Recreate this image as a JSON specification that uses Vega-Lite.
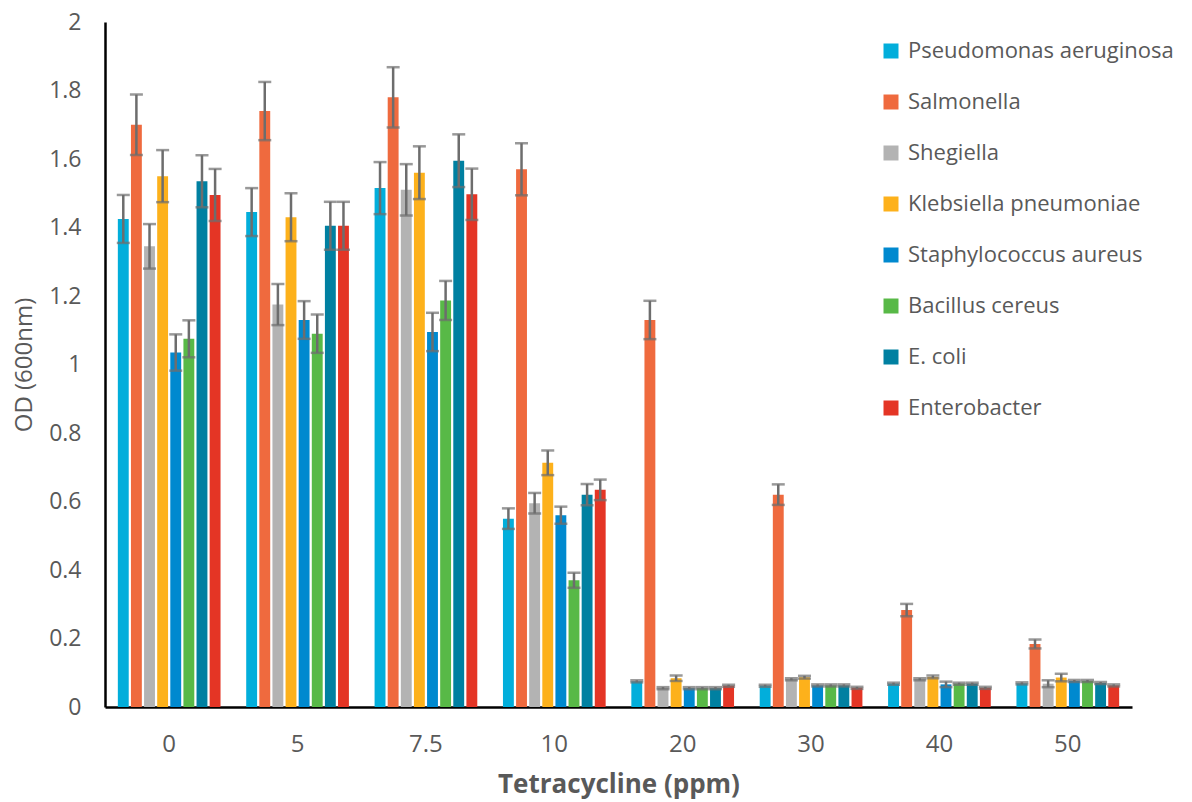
{
  "$schema": "https://vega.github.io/schema/vega-lite/v6.json",
  "width": 1027,
  "height": 685,
  "autosize": "none",
  "padding": {"left": 105, "top": 22, "right": 60, "bottom": 95},
  "background": "white",
  "config": {
    "view": {"stroke": null},
    "font": "Open Sans",
    "axis": {"grid": false, "labelColor": "#595959", "titleColor": "#595959", "labelFont": "Open Sans", "titleFont": "Open Sans"}
  },
  "data": {
    "values": [
      {"c": "0", "s": "Pseudomonas aeruginosa", "v": 1.425, "lo": 1.355, "hi": 1.495},
      {"c": "0", "s": "Salmonella", "v": 1.70, "lo": 1.612, "hi": 1.788},
      {"c": "0", "s": "Shegiella", "v": 1.345, "lo": 1.28, "hi": 1.41},
      {"c": "0", "s": "Klebsiella pneumoniae", "v": 1.55, "lo": 1.474, "hi": 1.626},
      {"c": "0", "s": "Staphylococcus aureus", "v": 1.035, "lo": 0.982, "hi": 1.088},
      {"c": "0", "s": "Bacillus cereus", "v": 1.075, "lo": 1.021, "hi": 1.129},
      {"c": "0", "s": "E. coli", "v": 1.535, "lo": 1.459, "hi": 1.611},
      {"c": "0", "s": "Enterobacter", "v": 1.495, "lo": 1.419, "hi": 1.571},

      {"c": "5", "s": "Pseudomonas aeruginosa", "v": 1.445, "lo": 1.375, "hi": 1.515},
      {"c": "5", "s": "Salmonella", "v": 1.74, "lo": 1.655, "hi": 1.825},
      {"c": "5", "s": "Shegiella", "v": 1.175, "lo": 1.115, "hi": 1.235},
      {"c": "5", "s": "Klebsiella pneumoniae", "v": 1.43, "lo": 1.36, "hi": 1.50},
      {"c": "5", "s": "Staphylococcus aureus", "v": 1.13, "lo": 1.075, "hi": 1.185},
      {"c": "5", "s": "Bacillus cereus", "v": 1.09, "lo": 1.034, "hi": 1.146},
      {"c": "5", "s": "E. coli", "v": 1.405, "lo": 1.335, "hi": 1.475},
      {"c": "5", "s": "Enterobacter", "v": 1.405, "lo": 1.335, "hi": 1.475},

      {"c": "7.5", "s": "Pseudomonas aeruginosa", "v": 1.515, "lo": 1.439, "hi": 1.591},
      {"c": "7.5", "s": "Salmonella", "v": 1.78, "lo": 1.692, "hi": 1.868},
      {"c": "7.5", "s": "Shegiella", "v": 1.51, "lo": 1.435, "hi": 1.585},
      {"c": "7.5", "s": "Klebsiella pneumoniae", "v": 1.56, "lo": 1.483, "hi": 1.637},
      {"c": "7.5", "s": "Staphylococcus aureus", "v": 1.095, "lo": 1.039, "hi": 1.151},
      {"c": "7.5", "s": "Bacillus cereus", "v": 1.187, "lo": 1.13, "hi": 1.244},
      {"c": "7.5", "s": "E. coli", "v": 1.595, "lo": 1.518, "hi": 1.672},
      {"c": "7.5", "s": "Enterobacter", "v": 1.497, "lo": 1.422, "hi": 1.572},

      {"c": "10", "s": "Pseudomonas aeruginosa", "v": 0.55, "lo": 0.52, "hi": 0.58},
      {"c": "10", "s": "Salmonella", "v": 1.57, "lo": 1.494, "hi": 1.646},
      {"c": "10", "s": "Shegiella", "v": 0.595, "lo": 0.565, "hi": 0.625},
      {"c": "10", "s": "Klebsiella pneumoniae", "v": 0.713, "lo": 0.677, "hi": 0.749},
      {"c": "10", "s": "Staphylococcus aureus", "v": 0.56, "lo": 0.535, "hi": 0.585},
      {"c": "10", "s": "Bacillus cereus", "v": 0.37, "lo": 0.348, "hi": 0.392},
      {"c": "10", "s": "E. coli", "v": 0.62, "lo": 0.589, "hi": 0.651},
      {"c": "10", "s": "Enterobacter", "v": 0.634, "lo": 0.604, "hi": 0.664},

      {"c": "20", "s": "Pseudomonas aeruginosa", "v": 0.075, "lo": 0.072, "hi": 0.078},
      {"c": "20", "s": "Salmonella", "v": 1.13, "lo": 1.074, "hi": 1.186},
      {"c": "20", "s": "Shegiella", "v": 0.055, "lo": 0.052, "hi": 0.058},
      {"c": "20", "s": "Klebsiella pneumoniae", "v": 0.084, "lo": 0.076, "hi": 0.092},
      {"c": "20", "s": "Staphylococcus aureus", "v": 0.055, "lo": 0.052, "hi": 0.058},
      {"c": "20", "s": "Bacillus cereus", "v": 0.055, "lo": 0.052, "hi": 0.058},
      {"c": "20", "s": "E. coli", "v": 0.055, "lo": 0.052, "hi": 0.058},
      {"c": "20", "s": "Enterobacter", "v": 0.062, "lo": 0.059, "hi": 0.065},

      {"c": "30", "s": "Pseudomonas aeruginosa", "v": 0.062, "lo": 0.059, "hi": 0.065},
      {"c": "30", "s": "Salmonella", "v": 0.62, "lo": 0.59, "hi": 0.65},
      {"c": "30", "s": "Shegiella", "v": 0.081, "lo": 0.078, "hi": 0.084},
      {"c": "30", "s": "Klebsiella pneumoniae", "v": 0.087, "lo": 0.083, "hi": 0.091},
      {"c": "30", "s": "Staphylococcus aureus", "v": 0.063, "lo": 0.06, "hi": 0.066},
      {"c": "30", "s": "Bacillus cereus", "v": 0.063, "lo": 0.06, "hi": 0.066},
      {"c": "30", "s": "E. coli", "v": 0.063, "lo": 0.06, "hi": 0.066},
      {"c": "30", "s": "Enterobacter", "v": 0.056, "lo": 0.053, "hi": 0.059},

      {"c": "40", "s": "Pseudomonas aeruginosa", "v": 0.068, "lo": 0.065, "hi": 0.071},
      {"c": "40", "s": "Salmonella", "v": 0.283, "lo": 0.265, "hi": 0.301},
      {"c": "40", "s": "Shegiella", "v": 0.081, "lo": 0.078, "hi": 0.084},
      {"c": "40", "s": "Klebsiella pneumoniae", "v": 0.088, "lo": 0.084, "hi": 0.092},
      {"c": "40", "s": "Staphylococcus aureus", "v": 0.066, "lo": 0.058, "hi": 0.074},
      {"c": "40", "s": "Bacillus cereus", "v": 0.068, "lo": 0.065, "hi": 0.071},
      {"c": "40", "s": "E. coli", "v": 0.068, "lo": 0.065, "hi": 0.071},
      {"c": "40", "s": "Enterobacter", "v": 0.056, "lo": 0.053, "hi": 0.059},

      {"c": "50", "s": "Pseudomonas aeruginosa", "v": 0.069, "lo": 0.066, "hi": 0.072},
      {"c": "50", "s": "Salmonella", "v": 0.184, "lo": 0.171, "hi": 0.197},
      {"c": "50", "s": "Shegiella", "v": 0.068, "lo": 0.058, "hi": 0.078},
      {"c": "50", "s": "Klebsiella pneumoniae", "v": 0.086, "lo": 0.075, "hi": 0.097},
      {"c": "50", "s": "Staphylococcus aureus", "v": 0.076, "lo": 0.073, "hi": 0.079},
      {"c": "50", "s": "Bacillus cereus", "v": 0.076, "lo": 0.073, "hi": 0.079},
      {"c": "50", "s": "E. coli", "v": 0.07, "lo": 0.067, "hi": 0.073},
      {"c": "50", "s": "Enterobacter", "v": 0.063, "lo": 0.06, "hi": 0.066}
    ]
  },
  "encoding": {
    "x": {
      "field": "c", "type": "nominal", "sort": null,
      "scale": {"paddingInner": 0.2, "paddingOuter": 0.1},
      "axis": {
        "title": "Tetracycline (ppm)", "labelAngle": 0, "labelFontSize": 24, "labelPadding": 25,
        "ticks": false, "domainColor": "#000000", "domainWidth": 2.5,
        "titleFontSize": 26, "titleFontWeight": "bold", "titlePadding": 15
      }
    },
    "xOffset": {
      "field": "s", "type": "nominal", "sort": null,
      "scale": {"paddingInner": 0.17, "paddingOuter": 0}
    }
  },
  "layer": [
    {
      "mark": {"type": "bar"},
      "encoding": {
        "y": {
          "field": "v", "type": "quantitative",
          "scale": {"domain": [0, 2], "nice": false},
          "axis": {
            "title": "OD (600nm)", "values": [0, 0.2, 0.4, 0.6, 0.8, 1, 1.2, 1.4, 1.6, 1.8, 2],
            "format": "~g",
            "labelFontSize": 23, "labelPadding": 24, "ticks": false,
            "domainColor": "#000000", "domainWidth": 2.5,
            "titleFontSize": 24, "titleFontWeight": "normal", "titlePadding": 12
          }
        },
        "color": {
          "field": "s", "type": "nominal", "sort": null,
          "scale": {
            "domain": ["Pseudomonas aeruginosa", "Salmonella", "Shegiella", "Klebsiella pneumoniae", "Staphylococcus aureus", "Bacillus cereus", "E. coli", "Enterobacter"],
            "range": ["#02AEDB", "#EF6A3E", "#B3B3B3", "#FDB11B", "#0089CF", "#58B947", "#0080A1", "#E43525"]
          },
          "legend": {
            "title": null, "orient": "none", "legendX": 775, "legendY": 18,
            "symbolType": "square", "symbolSize": 225, "symbolStrokeWidth": 0,
            "labelFontSize": 22, "labelColor": "#595959", "labelFont": "Open Sans",
            "labelLimit": 400, "rowPadding": 29, "labelOffset": 6
          }
        }
      }
    },
    {
      "mark": {"type": "rule", "color": "#6D6D6D", "strokeWidth": 2.5},
      "encoding": {
        "y": {"field": "lo", "type": "quantitative"},
        "y2": {"field": "hi"}
      }
    },
    {
      "mark": {"type": "tick", "color": "#6D6D6D", "thickness": 2.5, "size": 13},
      "encoding": {"y": {"field": "hi", "type": "quantitative"}}
    },
    {
      "mark": {"type": "tick", "color": "#6D6D6D", "thickness": 2.5, "size": 13},
      "encoding": {"y": {"field": "lo", "type": "quantitative"}}
    }
  ]
}
